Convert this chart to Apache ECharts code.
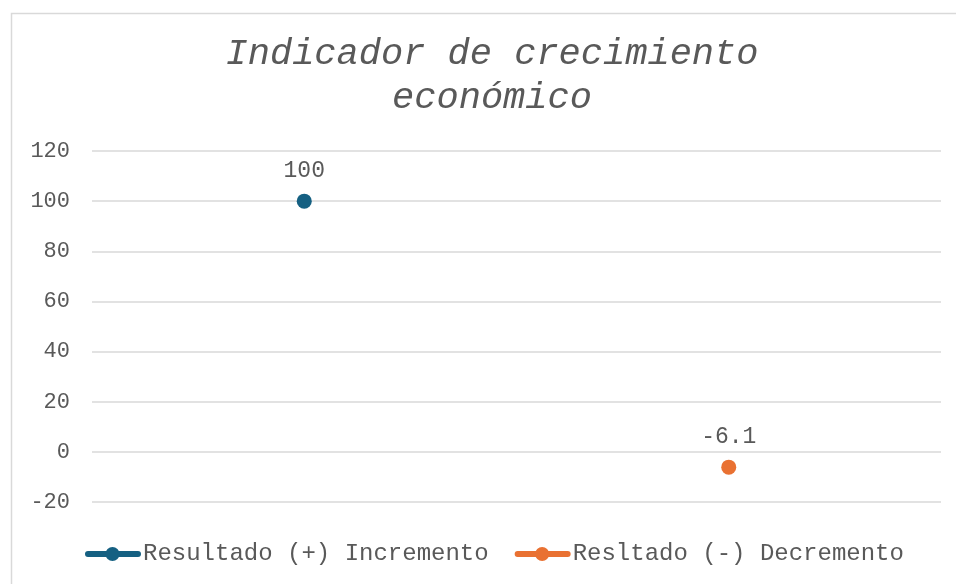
<!DOCTYPE html>
<html>
<head>
<meta charset="utf-8">
<script src="https://cdn.jsdelivr.net/npm/echarts@6/dist/echarts.min.js"></script>
<style>
html,body{margin:0;padding:0;background:#fff;}
#c{width:956px;height:584px;}
</style>
</head>
<body>
<div id="c"></div>
<script>
const categories = ['Incremento', 'Decremento'];
const seriesNames = ['Resultado (+) Incremento', 'Resltado (-) Decremento'];
const incrementoValues = [100, null];
const decrementoValues = [null, -6.1];
const yTicks = { min: -20, max: 120, interval: 20 };

const FONT = '"Liberation Mono", "Courier New", monospace';
const GRAY = '#595959';
const LEGEND_ICON = 'path://M3,4.5 L53,4.5 A3,3 0 0 1 53,10.5 L3,10.5 A3,3 0 0 1 3,4.5 Z M20.5,7.5 A7,7 0 0 1 34.5,7.5 A7,7 0 0 1 20.5,7.5 Z M0,0 L0.01,0 L0.01,0.01 Z M56,15 L55.99,15 L55.99,14.99 Z';

const chart = echarts.init(document.getElementById('c'));
chart.setOption({
  backgroundColor: '#fff',
  animation: false,
  title: {
    text: 'Indicador de crecimiento\neconómico',
    left: 492,
    top: 32,
    padding: 0,
    textAlign: 'center',
    textStyle: { fontFamily: FONT, fontStyle: 'italic', fontWeight: 'normal', fontSize: 37, lineHeight: 44, color: GRAY }
  },
  graphic: [{
    type: 'rect', silent: true, z: -10,
    shape: { x: 11.5, y: 13.5, width: 960, height: 600 },
    style: { fill: 'none', stroke: '#d9d9d9', lineWidth: 1.5 }
  }],
  legend: {
    left: 85, top: 542, padding: 0,
    itemWidth: 56, itemHeight: 15, itemGap: 26,
    textStyle: { fontFamily: FONT, fontSize: 24, color: GRAY, padding: [0, 0, 0, -3] },
    data: seriesNames.map(n => ({ name: n, icon: LEGEND_ICON }))
  },
  grid: { left: 92, right: 15, top: 151, bottom: 82 },
  xAxis: {
    type: 'category', data: categories, boundaryGap: true,
    axisLine: { show: false }, axisTick: { show: false }, axisLabel: { show: false }, splitLine: { show: false }
  },
  yAxis: {
    type: 'value', min: yTicks.min, max: yTicks.max, interval: yTicks.interval,
    axisLine: { show: false }, axisTick: { show: false },
    axisLabel: { fontFamily: FONT, fontSize: 22, color: GRAY, margin: 22 },
    splitLine: { lineStyle: { color: '#d9d9d9', width: 1.5 } }
  },
  series: [
    {
      name: seriesNames[0], type: 'line', data: incrementoValues,
      color: '#156082', symbol: 'circle', symbolSize: 15,
      lineStyle: { width: 5, color: '#156082' },
      itemStyle: { color: '#156082' },
      label: { show: true, position: 'top', distance: 11, fontFamily: FONT, fontSize: 23, color: GRAY }
    },
    {
      name: seriesNames[1], type: 'line', data: decrementoValues,
      color: '#E97132', symbol: 'circle', symbolSize: 15,
      lineStyle: { width: 5, color: '#E97132' },
      itemStyle: { color: '#E97132' },
      label: { show: true, position: 'top', distance: 11, fontFamily: FONT, fontSize: 23, color: GRAY }
    }
  ]
});
</script>
</body>
</html>
